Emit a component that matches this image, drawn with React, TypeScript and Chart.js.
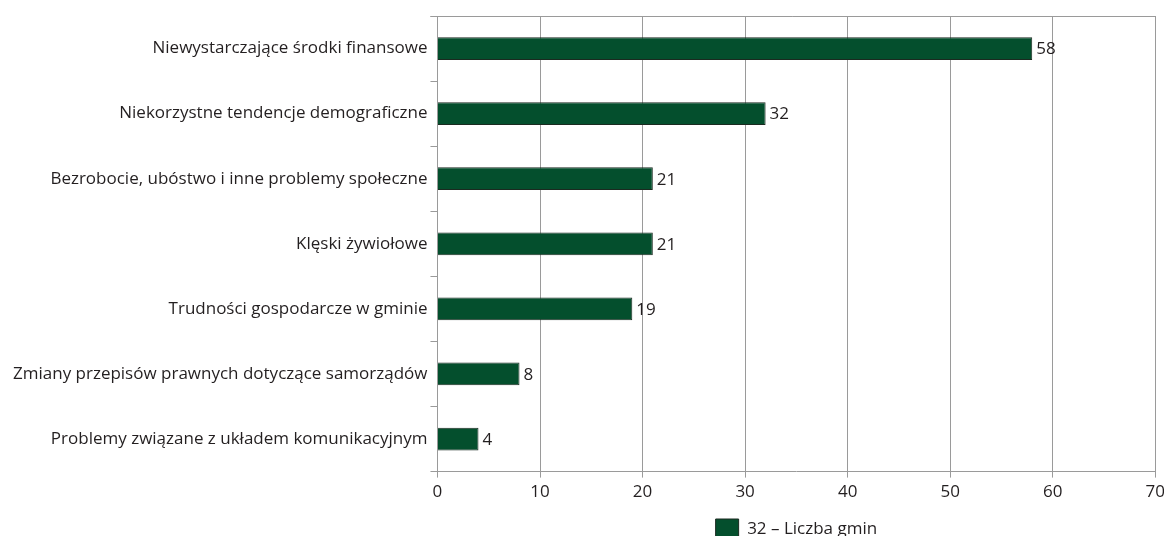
import React, { useEffect, useRef } from "react";
import { Chart, registerables } from "chart.js";

Chart.register(...registerables);

const categories = [
  "Niewystarczające środki finansowe",
  "Niekorzystne tendencje demograficzne",
  "Bezrobocie, ubóstwo i inne problemy społeczne",
  "Klęski żywiołowe",
  "Trudności gospodarcze w gminie",
  "Zmiany przepisów prawnych dotyczące samorządów",
  "Problemy związane z układem komunikacyjnym",
];
const values = [58, 32, 21, 21, 19, 8, 4];
const seriesLabel = "32 – Liczba gmin";
const xMin = 0;
const xMax = 70;
const xStep = 10;

const FONT = "'Open Sans', sans-serif";
const TEXT = "#231f20";
const GRID = "#9a9a9a";

const extras = {
  id: "extras",
  afterDatasetsDraw(chart: any) {
    const ctx = chart.ctx;
    const area = chart.chartArea;
    ctx.save();
    ctx.strokeStyle = GRID;
    ctx.lineWidth = 1;
    ctx.beginPath();
    ctx.moveTo(area.left - 7, area.top + 0.5);
    ctx.lineTo(area.right, area.top + 0.5);
    ctx.stroke();
    const meta = chart.getDatasetMeta(0);
    ctx.fillStyle = TEXT;
    ctx.font = "17px " + FONT;
    ctx.textAlign = "left";
    ctx.textBaseline = "middle";
    meta.data.forEach((bar: any, i: number) => {
      ctx.fillText(String(values[i]), bar.x + 4, bar.y + 1);
    });
    ctx.restore();
  },
};

export default function App() {
  const ref = useRef<HTMLCanvasElement>(null);
  useEffect(() => {
    if (!ref.current) return;
    const chart = new Chart(ref.current, {
      type: "bar",
      data: {
        labels: categories,
        datasets: [
          {
            label: seriesLabel,
            data: values,
            backgroundColor: "#044f2d",
            borderColor: "#1b2a20",
            borderWidth: 1,
            barPercentage: 0.7,
            categoryPercentage: 0.5,
          },
        ],
      },
      options: {
        indexAxis: "y",
        animation: false,
        responsive: false,
        devicePixelRatio: 1,
        layout: { padding: { top: 16, right: 0, left: 10, bottom: 0 } },
        plugins: {
          tooltip: { enabled: false },
          legend: {
            position: "bottom",
            fullSize: false,
            labels: {
              boxWidth: 23,
              boxHeight: 20,
              color: TEXT,
              font: { family: FONT, size: 17 },
              padding: 13,
            },
          },
        },
        scales: {
          x: {
            min: xMin,
            max: xMax,
            ticks: { stepSize: xStep, color: TEXT, font: { family: FONT, size: 17 }, padding: 4 },
            grid: { color: GRID, tickLength: 6, lineWidth: 1 },
            border: { color: GRID },
          },
          y: {
            ticks: { color: TEXT, font: { family: FONT, size: 17 }, padding: 3 },
            grid: { color: GRID, drawOnChartArea: false, tickLength: 7, offset: true },
            border: { color: GRID },
          },
        },
      },
      plugins: [extras],
    });
    return () => chart.destroy();
  }, []);
  return (
    <div style={{ position: "fixed", left: 0, top: 0, width: 1164, height: 536, overflow: "hidden", background: "#fff" }}>
      <canvas ref={ref} width={1169} height={549} style={{ display: "block" }} />
    </div>
  );
}
